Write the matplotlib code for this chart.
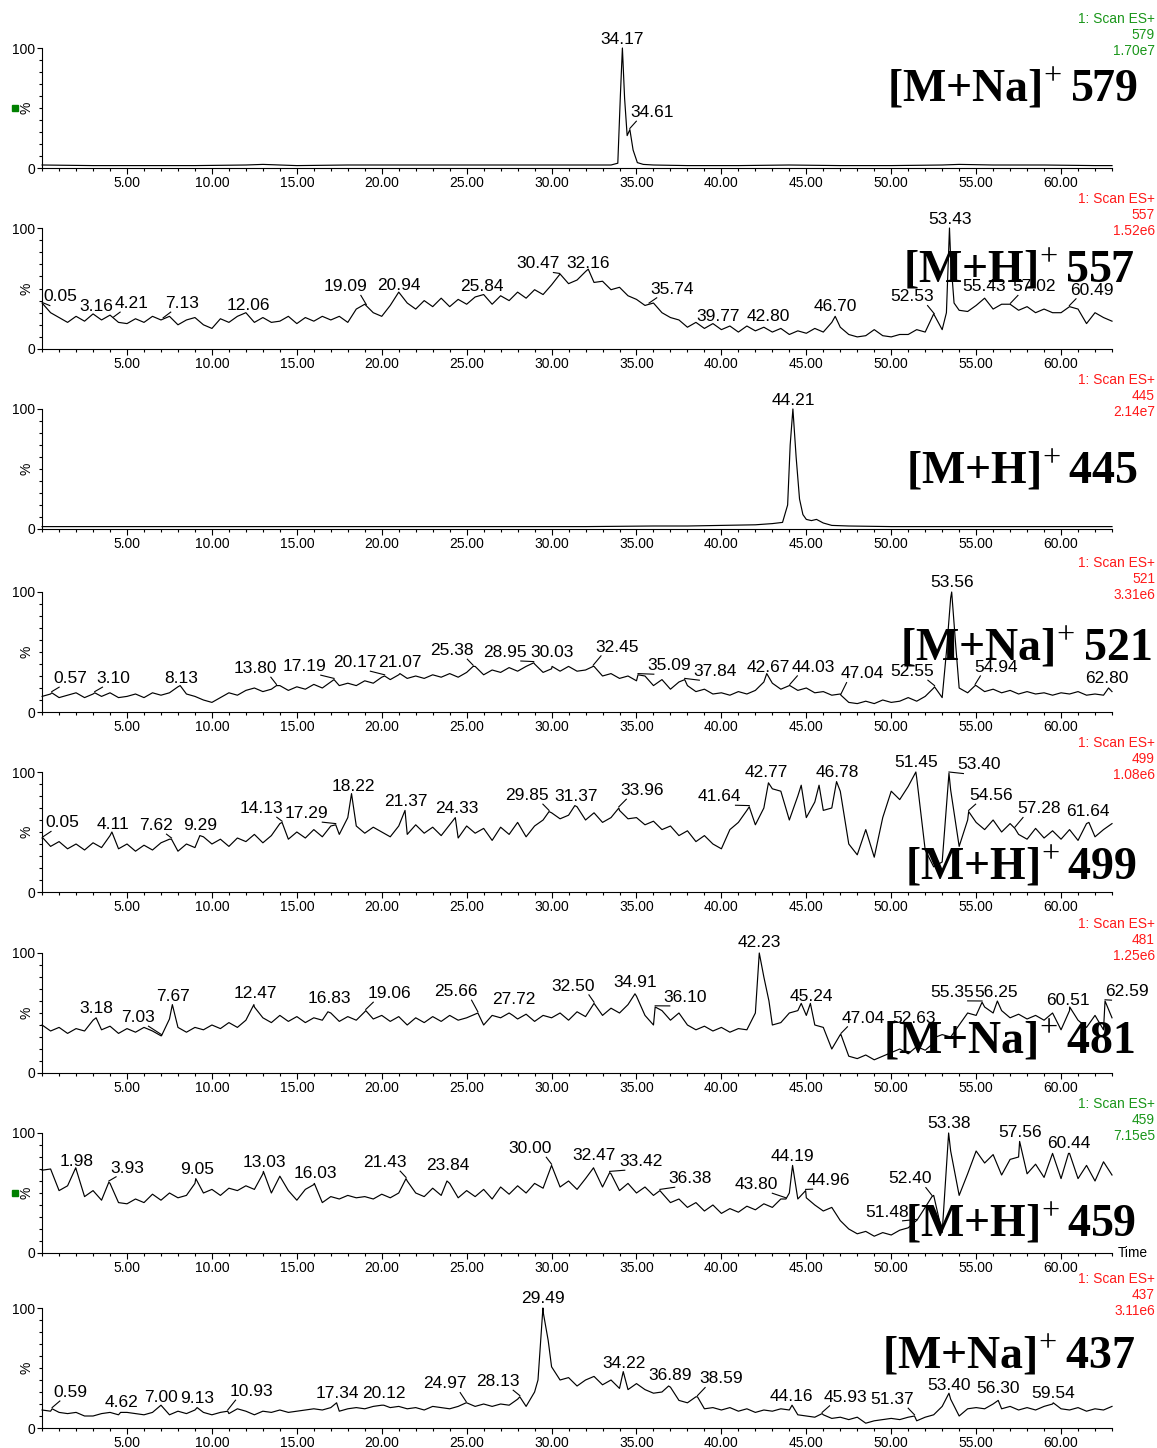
import numpy as np
import matplotlib
matplotlib.use('Agg')
import matplotlib.pyplot as plt
from matplotlib.ticker import FixedLocator, MultipleLocator, FuncFormatter
import matplotlib.transforms as mtransforms

plt.rcParams['font.family'] = ['Liberation Sans', 'DejaVu Sans']
plt.rcParams['mathtext.fontset'] = 'custom'
plt.rcParams['mathtext.rm'] = 'Liberation Serif'
plt.rcParams['mathtext.bf'] = 'Liberation Serif:bold'

# ---------------- data ----------------
mz_values = [579, 557, 445, 521, 499, 481, 459, 437]
ion_types = ['[M+Na]', '[M+H]', '[M+H]', '[M+Na]', '[M+H]', '[M+Na]', '[M+H]', '[M+Na]']
max_intensity = ['1.70e7', '1.52e6', '2.14e7', '3.31e6', '1.08e6', '1.25e6', '7.15e5', '3.11e6']
header_colors = ['#1a961a', '#ff1a1a', '#ff1a1a', '#ff1a1a', '#ff1a1a', '#ff1a1a', '#1a961a', '#ff1a1a']
marker_panels = [0, 6]

x_ticks = [5, 10, 15, 20, 25, 30, 35, 40, 45, 50, 55, 60]

# sampling times (min) for the noisy traces
scan_t = np.arange(0, 63.01, 0.5)

# m/z 579 (sparse, flat baseline + one peak)
times_579 = [0, 3, 6, 9, 12, 13, 15, 18, 20, 23, 25, 28, 31, 33.5, 33.9, 34.05, 34.17, 34.3,
             34.45, 34.61, 34.8, 35.05, 35.4, 36, 38, 41, 44, 47, 50, 53, 54, 56, 59, 62, 63]
int_579 = [2.5, 2, 2, 2, 2.5, 3, 2, 2.5, 2.5, 2.5, 2.5, 2.5, 2.5, 2.5, 4, 60, 100, 58,
           27, 32, 15, 4.5, 3, 2.5, 2, 2, 2.5, 2, 2, 2.5, 3, 2.5, 2.5, 2, 2]

# m/z 445
times_445 = [0, 4, 8, 12, 16, 20, 24, 28, 32, 36, 38, 40, 42, 43, 43.6, 43.9, 44.05, 44.21,
             44.4, 44.6, 44.8, 45.0, 45.3, 45.6, 46, 46.5, 47.5, 50, 54, 58, 63]
int_445 = [2, 2, 2, 2, 2, 2, 2, 2, 2, 2.5, 2.5, 3, 3.5, 4.5, 5.5, 20, 70, 100,
           60, 25, 12, 8, 7, 8, 5, 3, 2.5, 2, 2, 2, 2]

int_557 = [38, 30, 26, 22, 27, 23, 29, 24, 28, 22,
           21, 25, 22, 27, 24, 27, 20, 24, 26, 20,
           17, 25, 22, 27, 30, 22, 26, 22, 23, 27,
           21, 26, 23, 27, 24, 27, 22, 33, 37, 30,
           27, 36, 47, 38, 33, 40, 35, 42, 35, 41,
           37, 43, 45, 37, 44, 40, 47, 42, 49, 45,
           53, 62, 54, 57, 64, 55, 56, 49, 51, 44,
           41, 36, 38, 30, 26, 24, 18, 22, 17, 21,
           16, 19, 14, 19, 15, 18, 14, 17, 12, 15,
           13, 17, 14, 22, 18, 12, 10, 11, 16, 11,
           10, 12, 12, 16, 14, 29, 16, 75, 32, 31,
           36, 42, 33, 37, 37, 32, 35, 30, 33, 30,
           30, 35, 33, 21, 30, 26, 23]
pk_t_557 = [32.16, 46.7, 53.25, 53.43, 53.7]
pk_v_557 = [66, 27, 30, 100, 38]

int_521 = [13, 15, 12, 14, 16, 12, 15, 13, 16, 12,
           13, 15, 12, 16, 14, 16, 21, 15, 13, 10,
           8, 12, 16, 14, 18, 20, 17, 19, 22, 18,
           21, 19, 23, 20, 25, 22, 24, 22, 26, 24,
           29, 27, 31, 28, 30, 28, 31, 29, 32, 29,
           33, 38, 31, 35, 33, 37, 34, 38, 40, 33,
           36, 34, 38, 34, 35, 38, 30, 32, 28, 30,
           26, 30, 22, 27, 19, 25, 22, 17, 19, 15,
           16, 14, 17, 15, 18, 25, 24, 19, 22, 18,
           20, 16, 17, 14, 15, 8, 7, 9, 7, 10,
           8, 9, 12, 9, 13, 20, 12, 95, 20, 16,
           22, 17, 19, 16, 18, 15, 17, 15, 16, 14,
           16, 15, 17, 14, 15, 14, 17]
pk_t_521 = [0.57, 3.1, 8.13, 13.8, 17.19, 20.17, 21.07, 25.38, 28.95, 30.03, 32.45, 35.09,
            37.84, 42.67, 44.03, 47.04, 52.55, 53.25, 53.56, 53.8, 54.94, 62.8]
pk_v_521 = [16, 16, 22, 22, 27, 30, 32, 38, 41, 38, 38, 31,
            27, 32, 22, 14, 21, 50, 100, 55, 22, 20]

int_499 = [45, 38, 42, 36, 40, 35, 41, 37, 47, 36,
           40, 34, 39, 35, 41, 44, 34, 40, 37, 46,
           40, 44, 38, 45, 42, 48, 41, 47, 57, 44,
           50, 45, 52, 46, 55, 48, 62, 55, 49, 54,
           50, 46, 55, 48, 56, 49, 54, 47, 56, 45,
           55, 49, 53, 43, 54, 48, 58, 46, 55, 60,
           66, 61, 64, 71, 60, 66, 58, 62, 68, 61,
           62, 56, 59, 52, 55, 47, 51, 42, 47, 40,
           36, 52, 58, 68, 56, 70, 86, 84, 60, 80,
           62, 75, 68, 70, 84, 40, 31, 52, 29, 62,
           84, 77, 88, 95, 35, 21, 25, 85, 38, 60,
           58, 52, 60, 50, 57, 48, 44, 53, 45, 51,
           44, 52, 43, 57, 46, 52, 57]
pk_t_499 = [0.05, 4.11, 7.62, 9.29, 14.13, 17.29, 18.22, 21.37, 24.33, 29.85, 31.37, 33.96,
            41.64, 42.77, 44.7, 45.75, 46.78, 51.45, 53.4, 54.56, 57.28, 61.64]
pk_v_499 = [45, 50, 44, 47, 58, 56, 82, 68, 62, 67, 72, 70,
            71, 91, 89, 89, 92, 100, 99, 67, 53, 58]

int_481 = [40, 35, 38, 33, 37, 35, 44, 36, 39, 33,
           37, 34, 38, 35, 31, 45, 38, 34, 38, 36,
           40, 37, 42, 38, 44, 55, 46, 42, 48, 43,
           47, 42, 46, 44, 50, 43, 47, 44, 51, 45,
           48, 43, 47, 40, 46, 42, 47, 43, 48, 44,
           46, 49, 40, 48, 46, 50, 45, 49, 43, 48,
           46, 50, 44, 51, 47, 55, 48, 54, 50, 57,
           64, 48, 40, 52, 44, 50, 40, 36, 39, 35,
           38, 34, 37, 36, 50, 80, 40, 42, 50, 52,
           48, 40, 38, 20, 32, 14, 12, 15, 11, 14,
           17, 20, 16, 22, 19, 25, 32, 30, 40, 50,
           48, 55, 50, 52, 46, 49, 45, 48, 44, 50,
           36, 52, 44, 38, 48, 36, 46]
pk_t_481 = [3.18, 7.03, 7.67, 12.47, 16.83, 19.06, 25.66, 27.72, 32.5, 34.91, 36.1, 42.23,
            42.8, 44.7, 45.24, 47.04, 52.63, 55.35, 56.25, 60.51, 62.59]
pk_v_481 = [46, 31, 57, 57, 51, 52, 50, 48, 58, 66, 55, 100,
            60, 58, 58, 32, 30, 59, 60, 55, 60]

int_459 = [69, 70, 52, 56, 70, 47, 52, 44, 58, 42,
           41, 45, 42, 49, 44, 50, 46, 48, 58, 50,
           53, 48, 54, 52, 56, 53, 66, 50, 64, 52,
           44, 53, 57, 42, 47, 45, 48, 46, 47, 45,
           49, 46, 50, 60, 50, 47, 54, 48, 58, 46,
           52, 47, 53, 45, 55, 49, 56, 50, 58, 54,
           72, 55, 60, 53, 62, 70, 55, 66, 52, 58,
           50, 55, 48, 50, 42, 45, 38, 42, 35, 40,
           33, 37, 34, 39, 36, 41, 38, 45, 50, 45,
           46, 40, 35, 38, 27, 20, 16, 18, 14, 17,
           15, 19, 21, 27, 38, 48, 17, 85, 48, 66,
           85, 75, 82, 65, 78, 80, 66, 74, 63, 83,
           62, 83, 62, 73, 60, 76, 65]
pk_t_459 = [1.98, 3.93, 9.05, 13.03, 16.03, 21.43, 23.84, 30.0, 32.47, 33.42, 36.38, 43.8,
            44.19, 44.96, 51.48, 52.4, 53.38, 57.56, 60.44]
pk_v_459 = [71, 59, 62, 68, 58, 62, 60, 73, 71, 67, 52, 45,
            73, 52, 27, 47, 100, 93, 83]

int_437 = [15, 14, 13, 12, 13, 10, 10, 12, 13, 11,
           13, 12, 11, 13, 19, 11, 14, 12, 15, 13,
           11, 13, 12, 16, 14, 11, 14, 13, 15, 13,
           14, 15, 16, 15, 17, 14, 16, 17, 16, 18,
           19, 17, 18, 16, 17, 15, 18, 17, 16, 18,
           21, 18, 20, 18, 20, 19, 24, 18, 30, 97,
           51, 40, 42, 35, 40, 43, 36, 40, 33, 32,
           37, 32, 29, 30, 34, 23, 21, 26, 16, 17,
           15, 17, 14, 16, 13, 15, 14, 16, 15, 11,
           10, 9, 11, 8, 9, 7, 9, 4, 6, 7,
           8, 7, 9, 6, 9, 11, 18, 24, 10, 16,
           17, 16, 20, 16, 18, 15, 17, 15, 18, 20,
           16, 15, 17, 14, 16, 15, 18]
pk_t_437 = [0.59, 4.62, 9.13, 10.93, 17.34, 20.12, 24.97, 28.13, 29.2, 29.49, 29.8, 34.22,
            36.89, 38.59, 44.16, 45.93, 51.37, 53.4, 56.3, 59.54]
pk_v_437 = [16, 13, 17, 14, 21, 19, 21, 26, 40, 100, 73, 47,
            35, 26, 19, 12, 10, 29, 23, 21]

# peak labels: retention time, label centre (min), label baseline (%)
lab_t_579 = [34.17, 34.61]
lab_x_579 = [34.17, 35.92]
lab_y_579 = [103.3, 42.5]

lab_t_557 = [0.05, 3.16, 4.21, 7.13, 12.06, 19.09, 20.94, 25.84, 30.47, 32.16, 35.74, 39.77,
             42.80, 46.70, 52.53, 53.43, 55.43, 57.02, 60.49]
lab_x_557 = [1.1, 3.18, 5.24, 8.22, 12.15, 17.84, 20.99, 25.88, 29.18, 32.18, 37.12, 39.83,
             42.78, 46.7, 51.21, 53.47, 55.47, 58.39, 61.81]
lab_y_557 = [39.4, 31, 34, 34, 32.5, 47.8, 49, 48.3, 66.7, 66.7, 45.8, 23.3,
             23.3, 31.1, 39.4, 103.3, 47.8, 47.8, 45]

lab_t_445 = [44.21]
lab_x_445 = [44.25]
lab_y_445 = [103.3]

lab_t_521 = [0.57, 3.10, 8.13, 13.80, 17.19, 20.17, 21.07, 25.38, 28.95, 30.03, 32.45, 35.09,
             37.84, 42.67, 44.03, 47.04, 52.55, 53.56, 54.94, 62.80]
lab_x_521 = [1.65, 4.2, 8.21, 12.54, 15.48, 18.4, 21.05, 24.11, 27.26, 30.03, 33.84, 36.95,
             39.63, 42.78, 45.4, 48.3, 51.23, 53.57, 56.18, 62.7]
lab_y_521 = [24.2, 24.2, 24.2, 32.5, 34.2, 37.5, 37.5, 47.5, 46, 46, 50.3, 35,
             30, 33.6, 33.6, 28, 30, 104.4, 33.6, 24.5]

lab_t_499 = [0.05, 4.11, 7.62, 9.29, 14.13, 17.29, 18.22, 21.37, 24.33, 29.85, 31.37, 33.96,
             41.64, 42.77, 46.78, 51.45, 53.40, 54.56, 57.28, 61.64]
lab_x_499 = [1.17, 4.15, 6.68, 9.33, 12.89, 15.57, 18.31, 21.43, 24.42, 28.56, 31.42, 35.33,
             39.9, 42.67, 46.84, 51.46, 55.18, 55.9, 58.69, 61.6]
lab_y_499 = [54, 52.5, 51.7, 51.7, 65.8, 61.7, 84.2, 71.7, 65.6, 76.7, 76, 80.8,
             75.8, 96, 96, 103.9, 102.2, 76.7, 65.6, 63.3]

lab_t_481 = [3.18, 7.03, 7.67, 12.47, 16.83, 19.06, 25.66, 27.72, 32.50, 34.91, 36.10, 42.23,
             45.24, 47.04, 52.63, 55.35, 56.25, 60.51, 62.59]
lab_x_481 = [3.2, 5.62, 7.68, 12.54, 16.9, 20.43, 24.36, 27.77, 31.27, 34.92, 37.89, 42.22,
             45.27, 48.35, 51.33, 53.57, 56.18, 60.39, 63.9]
lab_y_481 = [50, 42.5, 60, 62.5, 58.3, 62.5, 64.2, 57.5, 68.6, 71.4, 59.4, 104.7,
             60.3, 42, 42, 63.6, 63.6, 56.7, 64.2]

lab_t_459 = [1.98, 3.93, 9.05, 13.03, 16.03, 21.43, 23.84, 30.00, 32.47, 33.42, 36.38, 43.80,
             44.19, 44.96, 51.48, 52.40, 53.38, 57.56, 60.44]
lab_x_459 = [2.04, 5.0, 9.1, 13.11, 16.09, 20.16, 23.88, 28.76, 32.53, 35.24, 38.18, 42.07,
             44.19, 46.3, 49.74, 51.11, 53.41, 57.59, 60.44]
lab_y_459 = [72.5, 67, 65.8, 71.4, 62.2, 71.7, 69, 83.3, 77.5, 72.5, 58.3, 53.3,
             76.7, 56.7, 30.3, 58, 103.9, 97, 87.2]

lab_t_437 = [0.59, 4.62, 7.00, 9.13, 10.93, 17.34, 20.12, 24.97, 28.13, 29.49, 34.22, 36.89,
             38.59, 44.16, 45.93, 51.37, 53.40, 56.30, 59.54]
lab_x_437 = [1.69, 4.66, 7.0, 9.15, 12.32, 17.37, 20.11, 23.69, 26.81, 29.52, 34.24, 36.96,
             39.97, 44.13, 47.3, 50.07, 53.43, 56.28, 59.54]
lab_y_437 = [26, 17.8, 22, 21, 26.7, 24.7, 24.7, 33, 35, 103.9, 49.7, 40,
             37.2, 22.8, 22, 20, 31.7, 28.9, 24.7]

# big ion label placement (right edge in min, baseline in %)
big_x = [64.54, 64.27, 64.54, 65.36, 64.48, 64.36, 64.36, 64.36]
big_y = [55, 54.7, 38.3, 43.3, 10, 16.4, 13.6, 49.7]


def merge(grid_t, vals, pk_t, pk_v):
    d = {round(float(t), 3): v for t, v in zip(grid_t, vals)}
    for t, v in zip(pk_t, pk_v):
        d[round(float(t), 3)] = v
    ts = sorted(d)
    return np.array(ts), np.array([d[t] for t in ts], dtype=float)


traces = [
    (np.array(times_579), np.array(int_579, dtype=float)),
    merge(scan_t, int_557, pk_t_557, pk_v_557),
    (np.array(times_445), np.array(int_445, dtype=float)),
    merge(scan_t, int_521, pk_t_521, pk_v_521),
    merge(scan_t, int_499, pk_t_499, pk_v_499),
    merge(scan_t, int_481, pk_t_481, pk_v_481),
    merge(scan_t, int_459, pk_t_459, pk_v_459),
    merge(scan_t, int_437, pk_t_437, pk_v_437),
]
labels = [
    (lab_t_579, lab_x_579, lab_y_579),
    (lab_t_557, lab_x_557, lab_y_557),
    (lab_t_445, lab_x_445, lab_y_445),
    (lab_t_521, lab_x_521, lab_y_521),
    (lab_t_499, lab_x_499, lab_y_499),
    (lab_t_481, lab_x_481, lab_y_481),
    (lab_t_459, lab_x_459, lab_y_459),
    (lab_t_437, lab_x_437, lab_y_437),
]

# ---------------- layout ----------------
W, H = 1157, 1448
xl_px, xr_px = 42.1, 1112.0
panel_px = [(48, 168), (228, 349), (409, 529), (592, 712), (772, 892),
            (953, 1073), (1133, 1253), (1308, 1428)]
XMAX = 63.0
min_per_px = XMAX / (xr_px - xl_px)

fig = plt.figure(figsize=(W / 100, H / 100), dpi=100)

LAB_FS = 12.5
digit_w = 0.556 * LAB_FS / 72 * 100 * min_per_px
dot_w = 0.278 * LAB_FS / 72 * 100 * min_per_px

for i, (top, bot) in enumerate(panel_px):
    h = bot - top
    ax = fig.add_axes([xl_px / W, 1 - bot / H, (xr_px - xl_px) / W, h / H])
    t, y = traces[i]
    ax.plot(t, y, color='black', lw=0.85, clip_on=False, zorder=2)
    ax.set_xlim(0, XMAX)
    ax.set_ylim(0, 100)
    for s in ['top', 'right']:
        ax.spines[s].set_visible(False)
    for s in ['left', 'bottom']:
        ax.spines[s].set_linewidth(0.8)
    ax.xaxis.set_major_locator(FixedLocator(x_ticks))
    ax.xaxis.set_minor_locator(MultipleLocator(1))
    ax.xaxis.set_major_formatter(FuncFormatter(lambda v, p: '%.2f' % v))
    ax.yaxis.set_major_locator(FixedLocator([0, 100]))
    ax.yaxis.set_minor_locator(MultipleLocator(10))
    ax.tick_params(axis='x', which='major', length=4.2, width=0.8, pad=1.5, labelsize=10)
    ax.tick_params(axis='x', which='minor', length=2.0, width=0.8)
    ax.tick_params(axis='y', which='major', length=3.8, width=0.8, pad=1, labelsize=10)
    ax.tick_params(axis='y', which='minor', length=2.0, width=0.8)

    # % label
    trans = mtransforms.blended_transform_factory(ax.transAxes, ax.transData)
    ax.text((26.7 - xl_px) / (xr_px - xl_px), 50, '%', transform=trans, rotation=90,
            ha='center', va='center', fontsize=10)
    if i in marker_panels:
        ax.plot([(15 - xl_px) / (xr_px - xl_px)], [50], transform=trans, marker='s',
                ms=5, color='#008000', clip_on=False, ls='none')

    # header text
    xr = (1155 - xl_px) / (xr_px - xl_px)
    c = header_colors[i]
    ax.text(xr, 1 + 29 / h, '1: Scan ES+', transform=ax.transAxes, ha='right',
            va='center', fontsize=9.9, color=c)
    ax.text(xr, 1 + 13 / h, str(mz_values[i]), transform=ax.transAxes, ha='right',
            va='center', fontsize=9.9, color=c)
    ax.text(xr, 1 - 3 / h, max_intensity[i], transform=ax.transAxes, ha='right',
            va='center', fontsize=9.9, color=c)

    # big ion label
    ax.text(big_x[i], big_y[i], ion_types[i] + r'$^{+}\,$' + str(mz_values[i]),
            ha='right', va='baseline', fontsize=33, fontweight='bold',
            family='Liberation Serif', zorder=4)

    # peak labels
    lt, lx, ly = labels[i]
    for pt, px, py in zip(lt, lx, ly):
        txt = '%.2f' % pt
        nd = sum(ch.isdigit() for ch in txt)
        hw = (nd * digit_w + dot_w) / 2
        ax.text(px, py, txt, ha='center', va='baseline', fontsize=LAB_FS, zorder=5)
        if abs(px - pt) > 0.5:
            v = float(np.interp(pt, t, y))
            if pt < px:
                ex = max(pt, px - hw + 0.35)
            else:
                ex = min(pt, px + hw - 0.35)
            ax.plot([pt, ex], [v + 1, py - 3.5], color='black', lw=0.8,
                    clip_on=False, zorder=3)

    if i == 6:
        ax.text(1.0056, 0, 'Time', transform=ax.transAxes, ha='left', va='center',
                fontsize=9.9)

fig.savefig('out.png', dpi=100)
